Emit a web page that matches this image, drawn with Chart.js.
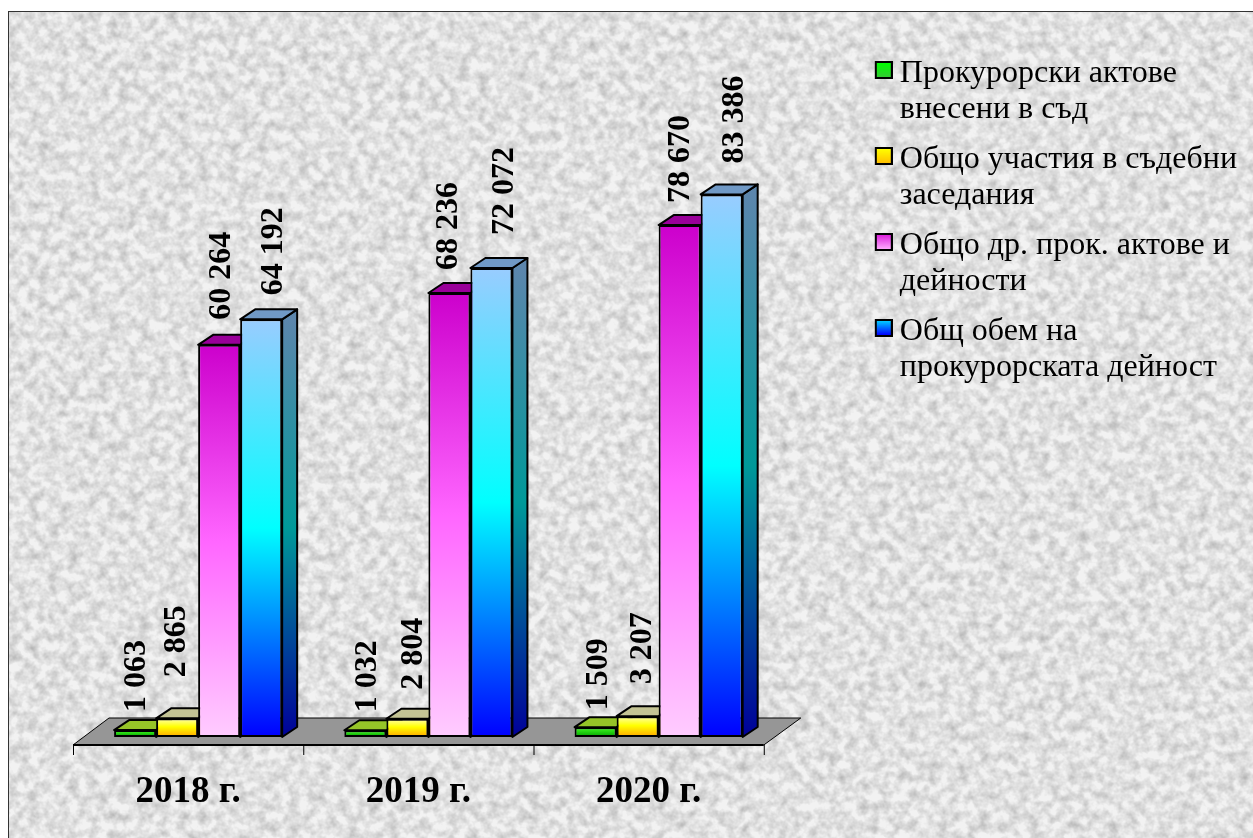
<!DOCTYPE html>
<html lang="bg">
<head>
<meta charset="utf-8">
<title>Прокурорска дейност</title>
<script src="https://cdn.jsdelivr.net/npm/chart.js@4"></script>
<style>
  html, body { margin: 0; padding: 0; background: #fff; overflow: hidden; }
  #paper {
    position: absolute; left: 8px; top: 11px; width: 1260px; height: 840px;
    border: 1.5px solid #333;
    background-color: #ededed;
    background-image: url("data:image/svg+xml,%3Csvg xmlns='http://www.w3.org/2000/svg' width='1260' height='840'%3E%3Cfilter id='n' x='0' y='0' width='100%25' height='100%25' color-interpolation-filters='sRGB'%3E%3CfeTurbulence type='fractalNoise' baseFrequency='0.1' numOctaves='3' seed='7'/%3E%3CfeColorMatrix values='0 0 0 0 0 0 0 0 0 0 0 0 0 0 0 0.4 0 0 0 -0.13'/%3E%3C/filter%3E%3Crect width='1260' height='840' fill='%23f2f2f2'/%3E%3Crect width='1260' height='840' fill='%23aaa' filter='url(%23n)'/%3E%3C/svg%3E");
  }
  #chart { position: absolute; left: 0; top: 0; }
</style>
</head>
<body>
<div id="paper"></div>
<canvas id="chart" width="1253" height="838"></canvas>
<script>
// Данни
const categories = ['2018 г.', '2019 г.', '2020 г.'];
const seriesNames = [
    ['Прокурорски актове', 'внесени в съд'],
    ['Общо участия в съдебни', 'заседания'],
    ['Общо др. прок. актове и', 'дейности'],
    ['Общ обем на', 'прокурорската дейност']
];
const aktove = [1063, 1032, 1509];
const uchastia = [2865, 2804, 3207];
const drugi = [60264, 68236, 78670];
const obem = [64192, 72072, 83386];

// Цветове
const frontStops = [
    [[0, '#44ff22'], [1, '#00a000']],
    [[0, '#ffffb0'], [0.45, '#ffff00'], [1, '#ffa500']],
    [[0, '#cc00cc'], [0.5, '#ff66ff'], [1, '#ffccff']],
    [[0, '#99ccff'], [0.5, '#00ffff'], [1, '#0000ff']]
];
const sideStops = [
    [[0, '#6a9a20'], [1, '#006000']],
    [[0, '#a0a070'], [1, '#996300']],
    [[0, '#7a007a'], [1, '#997a99']],
    [[0, '#5c86ad'], [0.5, '#009999'], [1, '#000099']]
];
const topColors = ['#96c428', '#c4c494', '#990099', '#7099c6'];

const depthX = 15, depthY = 10;

function makeGradient(ctx, y0, y1, stops) {
    const g = ctx.createLinearGradient(0, y0, 0, y1);
    stops.forEach(s => g.addColorStop(s[0], s[1]));
    return g;
}

// Квадратче за легендата (празните полета го местят надясно и нагоре спрямо реда)
function swatch(stops) {
    const c = document.createElement('canvas');
    c.width = 22; c.height = 26;
    const x = c.getContext('2d');
    x.translate(4, 0);
    x.fillStyle = makeGradient(x, 2, 16, stops);
    x.fillRect(0, 0, 18, 18);
    x.strokeStyle = '#000';
    x.lineWidth = 2;
    x.strokeRect(1, 1, 16, 16);
    return c;
}
const legendStops = [
    [[0, '#00ff00'], [1, '#33cc33']],
    [[0, '#ffff00'], [1, '#ffc000']],
    [[0, '#dd22dd'], [1, '#ffaaff']],
    [[0, '#00ccff'], [1, '#0000ff']]
];

function poly(ctx, pts, fill, stroke) {
    ctx.beginPath();
    pts.forEach((p, i) => i ? ctx.lineTo(p[0], p[1]) : ctx.moveTo(p[0], p[1]));
    ctx.closePath();
    ctx.fillStyle = fill;
    ctx.fill();
    if (stroke) {
        ctx.strokeStyle = stroke;
        ctx.lineWidth = 2;
        ctx.stroke();
    }
}

// Под и деления на оста
const floorPlugin = {
    id: 'floor',
    beforeDatasetsDraw(chart) {
        const { ctx, chartArea: a, scales: { x } } = chart;
        const left = a.left - 10, right = a.right - 10, front = a.bottom + 8;
        ctx.save();
        poly(ctx, [[left, front], [right, front], [right + 37, front - 27], [left + 36, front - 27]], '#969696');
        ctx.strokeStyle = '#000';
        ctx.lineWidth = 1;
        ctx.beginPath();
        ctx.moveTo(left, front); ctx.lineTo(left + 36, front - 27); ctx.lineTo(right + 37, front - 27); ctx.lineTo(right, front);
        ctx.stroke();
        ctx.lineWidth = 2;
        ctx.beginPath();
        ctx.moveTo(left, front); ctx.lineTo(right, front);
        ctx.stroke();
        ctx.lineWidth = 1;
        const step = x.width / categories.length;
        for (let i = 0; i <= categories.length; i++) {
            ctx.beginPath();
            ctx.moveTo(left + i * step + 0.5, front);
            ctx.lineTo(left + i * step + 0.5, front + 10);
            ctx.stroke();
        }
        ctx.restore();
    }
};

// Горна и странична стена на колоните
const depthPlugin = {
    id: 'depth',
    beforeDatasetsDraw(chart) {
        const { ctx } = chart;
        ctx.save();
        ctx.lineJoin = 'round';
        chart.data.datasets.forEach((ds, d) => {
            chart.getDatasetMeta(d).data.forEach(bar => {
                const l = bar.x - bar.width / 2, r = bar.x + bar.width / 2, t = bar.y, b = bar.base;
                poly(ctx, [[r, t], [r + depthX, t - depthY], [r + depthX, b - depthY], [r, b]],
                    makeGradient(ctx, t, b, sideStops[d]), '#000');
                poly(ctx, [[l, t], [l + depthX, t - depthY], [r + depthX, t - depthY], [r, t]], topColors[d], '#000');
            });
        });
        ctx.restore();
    }
};

// Завъртени стойности над колоните (отместване на всеки надпис)
const labelShiftX = [
    [2, 0, 3, 13],
    [2, 6, -1, 13],
    [3, 5, 1, 13]
];
const labelGap = [
    [18, 41, 25, 24],
    [18, 29, 23, 33],
    [17, 32, 22, 31]
];
const valuePlugin = {
    id: 'values',
    afterDatasetsDraw(chart) {
        const { ctx } = chart;
        ctx.save();
        ctx.fillStyle = '#000';
        ctx.font = 'bold 32px "Liberation Serif"';
        ctx.textAlign = 'left';
        ctx.textBaseline = 'middle';
        chart.data.datasets.forEach((ds, d) => {
            chart.getDatasetMeta(d).data.forEach((bar, i) => {
                const text = String(ds.data[i]).replace(/\B(?=(\d{3})+$)/g, ' ');
                ctx.save();
                ctx.translate(bar.x + labelShiftX[i][d], bar.y - labelGap[i][d]);
                ctx.rotate(-Math.PI / 2);
                ctx.fillText(text, 0, 0);
                ctx.restore();
            });
        });
        ctx.restore();
    }
};

function frontFill(d) {
    return function(c) {
        const chart = c.chart;
        if (!chart.chartArea || c.parsed === undefined) return '#888';
        const y = chart.scales.y;
        return makeGradient(chart.ctx, y.getPixelForValue(c.parsed.y), y.getPixelForValue(0), frontStops[d]);
    };
}

const allSeries = [aktove, uchastia, drugi, obem];

new Chart(document.getElementById('chart'), {
    type: 'bar',
    data: {
        labels: categories,
        datasets: allSeries.map((vals, d) => ({
            label: seriesNames[d].join(' '),
            data: vals,
            backgroundColor: frontFill(d),
            borderColor: '#000',
            borderWidth: 2,
            borderSkipped: false
        }))
    },
    options: {
        responsive: false,
        animation: false,
        layout: { padding: { left: 83, top: 44, right: 6, bottom: 0 } },
        datasets: { bar: { categoryPercentage: 0.73, barPercentage: 1 } },
        plugins: {
            tooltip: { enabled: false },
            legend: {
                position: 'right',
                align: 'start',
                maxWidth: 400,
                labels: {
                    color: '#000',
                    font: { family: '"Liberation Serif"', size: 32, lineHeight: 36 / 32 },
                    usePointStyle: true,
                    pointStyleWidth: 4,
                    padding: 14,
                    generateLabels: () => seriesNames.map((name, i) => ({
                        text: name,
                        pointStyle: swatch(legendStops[i]),
                        datasetIndex: i,
                        lineWidth: 0
                    }))
                }
            }
        },
        scales: {
            x: {
                grid: { display: false },
                border: { display: false },
                afterFit: s => { s.height = 101; },
                ticks: {
                    color: '#000',
                    maxRotation: 0,
                    labelOffset: -10,
                    padding: 25,
                    font: { family: '"Liberation Serif"', size: 37, weight: 'bold' }
                }
            },
            y: {
                position: 'right',
                min: 0,
                max: 106500,
                grid: { display: false },
                border: { display: false },
                ticks: { display: false },
                afterFit: s => { s.width = 92; }
            }
        }
    },
    plugins: [floorPlugin, depthPlugin, valuePlugin]
});
</script>
</body>
</html>
